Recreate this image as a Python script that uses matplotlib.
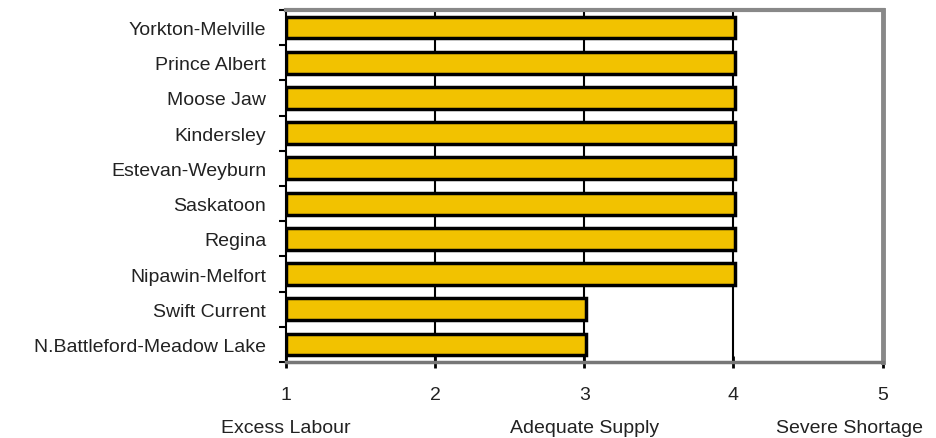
import matplotlib.pyplot as plt
import numpy as np

plt.rcParams['font.family'] = ['Liberation Sans', 'DejaVu Sans']

regions = ['Yorkton-Melville', 'Prince Albert', 'Moose Jaw', 'Kindersley',
           'Estevan-Weyburn', 'Saskatoon', 'Regina', 'Nipawin-Melfort',
           'Swift Current', 'N.Battleford-Meadow Lake']
scores = [4, 4, 4, 4, 4, 4, 4, 4, 3, 3]
scale_ticks = [1, 2, 3, 4, 5]
scale_names = ['Excess Labour', 'Adequate Supply', 'Severe Shortage']
scale_pos = [1, 3, 4.78]

fig = plt.figure(figsize=(9.37, 4.39), dpi=100)
ax = fig.add_axes([0.305, 0.173, 0.637, 0.802])

y = np.arange(len(regions))[::-1]
ax.barh(y, np.array(scores) - 1 + 0.01, left=1, height=0.62, color='#F2C200',
        edgecolor='black', linewidth=2.5, zorder=3)

ax.set_xlim(1, 5)
ax.set_ylim(-0.5, len(regions) - 0.5)
ax.set_xticks(scale_ticks)
ax.set_yticks(y)
ax.set_yticklabels(regions, fontsize=14, color='#222222')
ax.set_yticks(np.arange(-0.5, len(regions)), minor=True)
ax.tick_params(axis='y', which='major', length=0, pad=14)
ax.tick_params(axis='y', which='minor', length=5, width=1.5, direction='out')
ax.tick_params(axis='x', length=8, width=2, direction='inout', pad=13,
               labelsize=14, labelcolor='#222222')

for v in scale_ticks[1:-1]:
    ax.axvline(v, color='black', linewidth=1.5, zorder=1)

ax.spines['top'].set_color('#888888')
ax.spines['top'].set_linewidth(3)
ax.spines['right'].set_color('#888888')
ax.spines['right'].set_linewidth(3.5)
ax.spines['left'].set_color('black')
ax.spines['left'].set_linewidth(1.5)
ax.spines['bottom'].set_color('#777777')
ax.spines['bottom'].set_linewidth(2.5)

trans = ax.get_xaxis_transform()
for name, pos in zip(scale_names, scale_pos):
    ax.text(pos, -0.185, name, transform=trans, ha='center', va='center',
            fontsize=14, color='#222222')

plt.savefig('out.png', dpi=100)
